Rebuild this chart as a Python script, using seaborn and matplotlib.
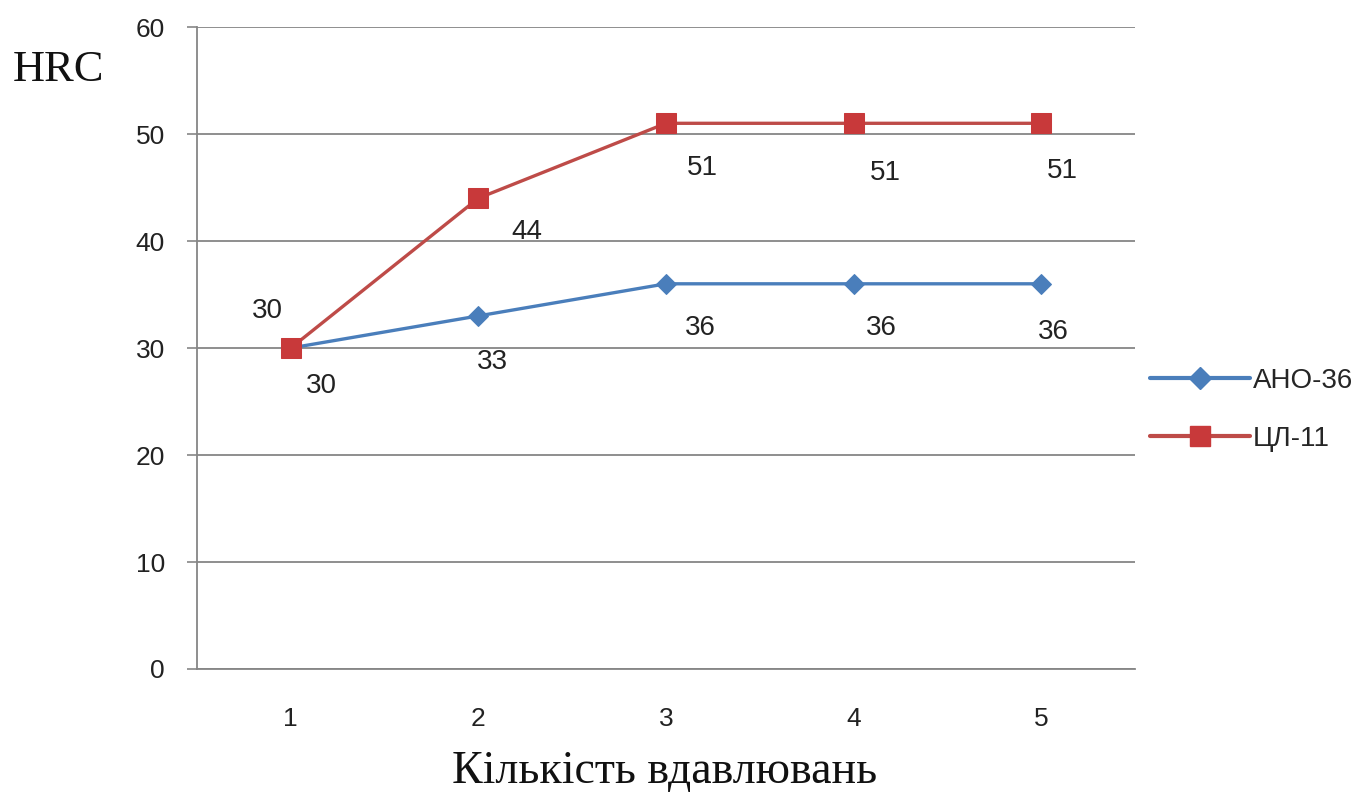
import matplotlib
matplotlib.use("Agg")
import matplotlib.pyplot as plt
import seaborn as sns
import pandas as pd
from matplotlib.ticker import FixedLocator, NullFormatter
from matplotlib.lines import Line2D

# Hardness after repeated indentation
presses = [1, 2, 3, 4, 5]
tick_labels = ["1", "2", "3", "4", "5"]
ano36 = [30, 33, 36, 36, 36]
cl11 = [30, 44, 51, 51, 51]
series_names = ["АНО-36", "ЦЛ-11"]

df = pd.DataFrame({
    "n": presses * 2,
    "hrc": ano36 + cl11,
    "series": [series_names[0]] * 5 + [series_names[1]] * 5,
})

sns.set_theme(style="white")
plt.rcParams["font.family"] = ["Liberation Sans", "DejaVu Sans"]

blue = "#4a7ebb"
red = "#be4b48"
red_marker = "#c8393a"
text_col = "#222222"
axis_col = "#868686"

fig = plt.figure(figsize=(13.66, 7.93), dpi=100)
ax = fig.add_axes([197 / 1366, 1 - 669 / 793, (1135 - 197) / 1366, (669 - 27) / 793])

sns.lineplot(data=df, x="n", y="hrc", hue="series", style="series",
             palette={series_names[0]: blue, series_names[1]: red},
             markers={series_names[0]: "D", series_names[1]: "s"},
             dashes=False, linewidth=2.4, ax=ax, legend=False, zorder=3)

# marker sizes per series
lines = ax.get_lines()
lines[0].set_markersize(10)
lines[0].set_markerfacecolor(blue)
lines[0].set_markeredgecolor(blue)
lines[1].set_markersize(14)
lines[1].set_markerfacecolor(red_marker)
lines[1].set_markeredgecolor(red_marker)

ax.set_xlim(0.5, 5.5)
ax.set_ylim(0, 60)
ax.set_yticks(range(0, 61, 10))
ax.set_xticks(presses)
ax.set_xticklabels(tick_labels)
ax.xaxis.set_minor_locator(FixedLocator([0.5, 1.5, 2.5, 3.5, 4.5, 5.5]))
ax.xaxis.set_minor_formatter(NullFormatter())
ax.tick_params(axis="x", which="major", length=0, pad=27, labelsize=19, colors=text_col)
ax.tick_params(axis="x", which="minor", length=6, width=1.2, color=axis_col, direction="out")
ax.tick_params(axis="y", which="major", length=7, width=1.2, color=axis_col, direction="out",
               pad=16, labelsize=19, labelcolor=text_col, left=True)

ax.grid(axis="y", color=axis_col, linewidth=1.3)
ax.grid(axis="x", visible=False)
for side in ["top", "right"]:
    ax.spines[side].set_visible(False)
for side in ["left", "bottom"]:
    ax.spines[side].set_color(axis_col)
    ax.spines[side].set_linewidth(1.3)

ax.set_xlabel("")
ax.set_ylabel("")

# value labels (offsets in points)
red_off = [(-17, 27), (35, -24), (26, -32), (23, -36), (15, -34)]
blue_off = [(22, -27), (10, -33), (25, -32), (20, -32), (9, -35)]
for x, y, off in zip(presses, cl11, red_off):
    ax.annotate(str(y), (x, y), xytext=off, textcoords="offset points",
                ha="center", va="center", fontsize=20, color=text_col)
for x, y, off in zip(presses, ano36, blue_off):
    ax.annotate(str(y), (x, y), xytext=off, textcoords="offset points",
                ha="center", va="center", fontsize=20, color=text_col)

fig.text(58 / 1366, 1 - 70 / 793, "HRC", family="Liberation Serif", fontsize=32,
         ha="center", va="center", color="#111111")
fig.text(665 / 1366, 1 - 772 / 793, "Кількість вдавлювань", family="Liberation Serif",
         fontsize=33, ha="center", va="center", color="#111111")

# legend
handles = [
    Line2D([], [], color=blue, lw=3, marker="D", markersize=11,
           markerfacecolor=blue, markeredgecolor=blue),
    Line2D([], [], color=red, lw=3, marker="s", markersize=15,
           markerfacecolor=red_marker, markeredgecolor=red_marker),
]
fig.legend(handles, series_names, loc="center left",
           bbox_to_anchor=(1150 / 1366, 1 - 410 / 793), borderaxespad=0, borderpad=0,
           frameon=False, fontsize=20, handlelength=3.6, handletextpad=0.1,
           labelspacing=1.15)

fig.savefig("out.png", dpi=100, facecolor="white")
